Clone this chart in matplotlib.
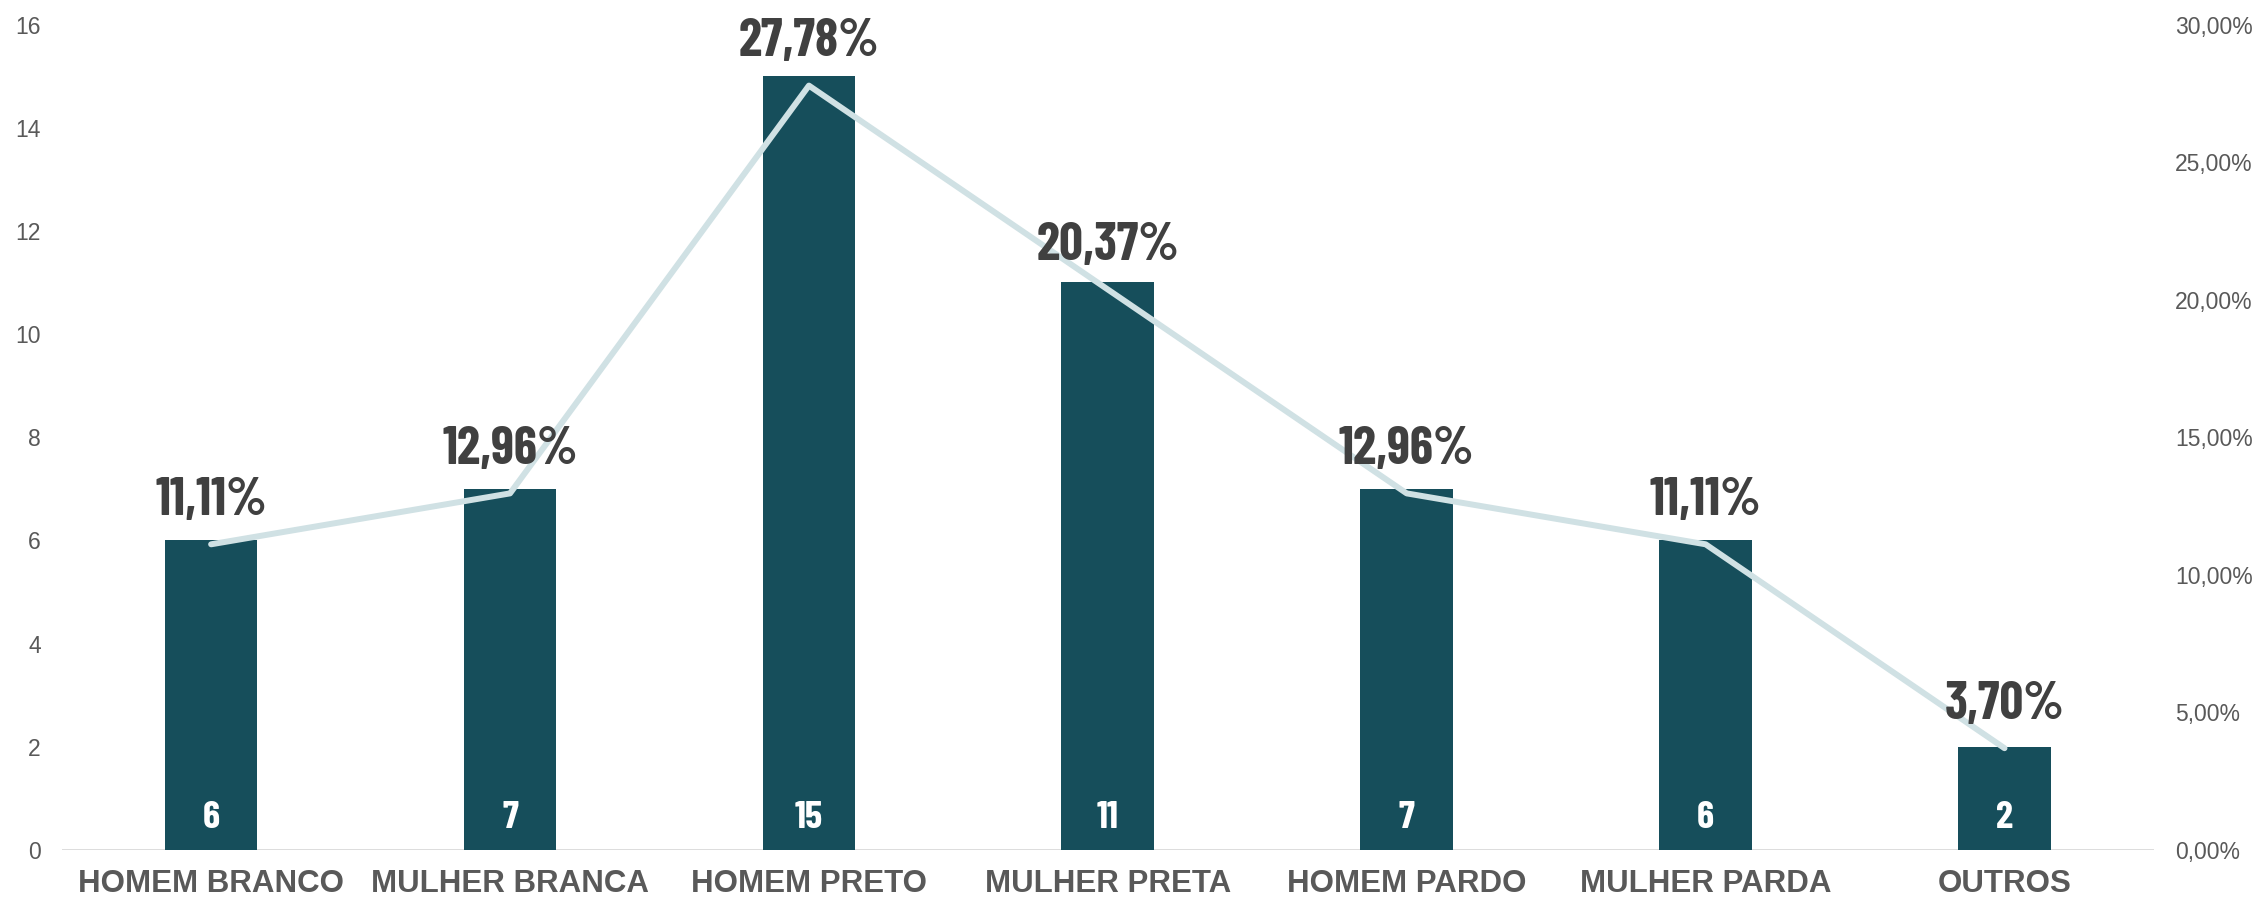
import numpy as np
import matplotlib
matplotlib.use("Agg")
import matplotlib.pyplot as plt
from matplotlib import font_manager as fm
from matplotlib.textpath import TextPath
from matplotlib.ticker import FuncFormatter, MultipleLocator

# data
categorias = ["HOMEM BRANCO", "MULHER BRANCA", "HOMEM PRETO", "MULHER PRETA",
              "HOMEM PARDO", "MULHER PARDA", "OUTROS"]
quantidade = [6, 7, 15, 11, 7, 6, 2]
percentual = [11.11, 12.96, 27.78, 20.37, 12.96, 11.11, 3.70]

bar_color = "#164E5B"
line_color = "#D0E1E4"
tick_gray = "#595959"
label_dark = "#404040"


def weight_num(w):
    if isinstance(w, int):
        return w
    return {"bold": 700, "heavy": 800, "black": 900, "semibold": 600,
            "demibold": 600, "extra bold": 800}.get(str(w), 400)


def pick_condensed():
    # narrow bold face closest to the reference's proportions
    # ("27,78%" width about 3.6x the digit height)
    best = None
    for f in fm.fontManager.ttflist:
        name, path = f.name.lower(), f.fname.lower()
        narrowish = any(k in name or k in path for k in ("narrow", "condensed")) \
            or f.stretch not in ("normal", 500)
        if not narrowish or f.style != "normal" or "italic" in path:
            continue
        if weight_num(f.weight) < 600:
            continue
        try:
            prop = fm.FontProperties(fname=f.fname)
            w = TextPath((0, 0), "27,78%", prop=prop, size=100).get_extents().width
            h = TextPath((0, 0), "8", prop=prop, size=100).get_extents().height
        except Exception:
            continue
        score = abs(w / h - 3.6) + abs(weight_num(f.weight) - 700) / 1000
        if best is None or score < best[0]:
            best = (score, f.fname, h / 100)
    return best


found = pick_condensed()
if found:
    cond_path, digit_ratio = found[1], found[2]

    def cond_font(digit_px):
        return fm.FontProperties(fname=cond_path, size=digit_px / digit_ratio * 0.72)
else:
    def cond_font(digit_px):
        return fm.FontProperties(family="DejaVu Sans", weight="bold",
                                 size=digit_px / 0.729 * 0.72 * 0.8)

fig = plt.figure(figsize=(22.59, 9.01), dpi=100)
ax = fig.add_axes([0.0273, 0.0566, 0.9262, 0.9162])
ax2 = ax.twinx()

x = np.arange(len(categorias))
ax.bar(x, quantidade, width=0.31, color=bar_color, zorder=2)
ax.set_xlim(-0.5, len(categorias) - 0.5)
ax.set_ylim(0, 16)
ax.yaxis.set_major_locator(MultipleLocator(2))

pct = np.array(percentual) / 100
ax2.plot(x, pct, color=line_color, lw=4.3, solid_capstyle="round",
         solid_joinstyle="round", zorder=3)
ax2.set_ylim(0, 0.30)
ax2.yaxis.set_major_locator(MultipleLocator(0.05))
ax2.yaxis.set_major_formatter(FuncFormatter(lambda v, p: f"{v * 100:.2f}%".replace(".", ",")))

# numbers inside bars
for xi, q in zip(x, quantidade):
    ax.annotate(str(q), (xi, 0), xytext=(0, 16), textcoords="offset points",
                ha="center", va="baseline", color="white",
                fontproperties=cond_font(28), zorder=4)

# percentage labels above line points
for xi, p in zip(x, percentual):
    ax2.annotate(f"{p:.2f}%".replace(".", ","), (xi, p / 100), xytext=(0, 21),
                 textcoords="offset points", ha="center", va="baseline",
                 color=label_dark, fontproperties=cond_font(38), zorder=5)

ax.set_xticks(x)
ax.set_xticklabels(categorias, fontsize=22.5, fontweight="bold", color=tick_gray,
                   family=["Liberation Sans", "DejaVu Sans"])
ax.tick_params(axis="x", length=0, pad=14)
ax.tick_params(axis="y", length=0, pad=15, labelsize=16.5, labelcolor=tick_gray)
ax2.tick_params(axis="y", length=0, pad=15, labelsize=16.5, labelcolor=tick_gray)
for lab in ax.get_yticklabels() + ax2.get_yticklabels():
    lab.set_family(["Liberation Sans", "DejaVu Sans"])

for a in (ax, ax2):
    for s in ["top", "left", "right", "bottom"]:
        a.spines[s].set_visible(False)
ax.axhline(0, color="#D9D9D9", lw=2, zorder=1)

fig.savefig("out.png", dpi=100, facecolor="white")
